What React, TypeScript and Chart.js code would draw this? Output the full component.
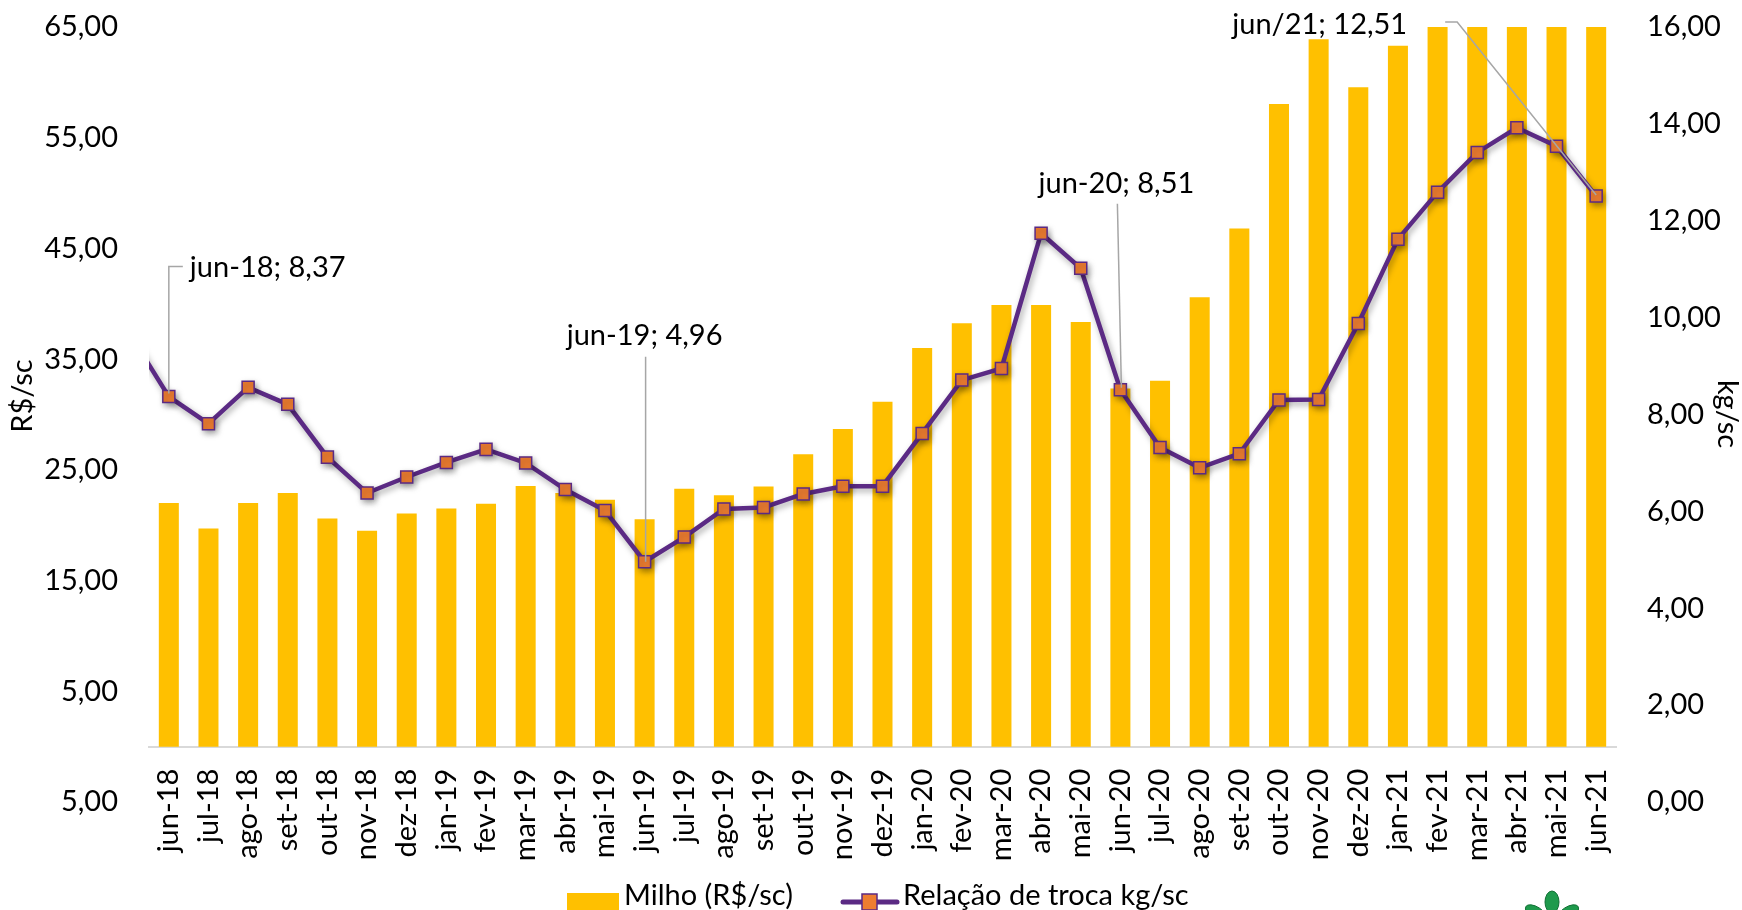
import React, { useEffect, useRef } from 'react';
import { Chart, registerables } from 'chart.js';

Chart.register(...registerables);

// ---------- data ----------
const categories = [
  'mai-18',
  'jun-18', 'jul-18', 'ago-18', 'set-18', 'out-18', 'nov-18', 'dez-18',
  'jan-19', 'fev-19', 'mar-19', 'abr-19', 'mai-19', 'jun-19', 'jul-19', 'ago-19', 'set-19', 'out-19', 'nov-19', 'dez-19',
  'jan-20', 'fev-20', 'mar-20', 'abr-20', 'mai-20', 'jun-20', 'jul-20', 'ago-20', 'set-20', 'out-20', 'nov-20', 'dez-20',
  'jan-21', 'fev-21', 'mar-21', 'abr-21', 'mai-21', 'jun-21',
];
const firstVisibleCategory = 'jun-18';

// Milho (R$/sc) — bars on the left axis (values above 65 are cut by the axis)
const milhoPrices = [
  null,
  22.0, 19.7, 22.0, 22.9, 20.6, 19.5, 21.05,
  21.5, 21.95, 23.55, 22.9, 22.3, 20.55, 23.3, 22.7, 23.5, 26.4, 28.7, 31.15,
  36.0, 38.25, 39.9, 39.9, 38.35, 32.35, 33.05, 40.6, 46.8, 58.05, 63.9, 59.55,
  63.3, 78.0, 84.0, 92.0, 95.0, 84.0,
];

// Relação de troca kg/sc — line on the right axis
const tradeRatio = [
  9.68,
  8.37, 7.81, 8.56, 8.21, 7.12, 6.38, 6.71,
  7.01, 7.28, 7.0, 6.45, 6.02, 4.96, 5.47, 6.05, 6.08, 6.36, 6.52, 6.52,
  7.61, 8.71, 8.95, 11.74, 11.02, 8.51, 7.32, 6.9, 7.19, 8.3, 8.31, 9.88,
  11.62, 12.59, 13.41, 13.92, 13.54, 12.51,
];

const annotatedCategories = ['jun-18', 'jun-19', 'jun-20', 'jun-21'];
const annotationTexts = ['jun-18; 8,37', 'jun-19; 4,96', 'jun-20; 8,51', 'jun/21; 12,51'];

const leftAxisTitle = 'R$/sc';
const rightAxisTitle = 'kg/sc';
const barLabel = 'Milho (R$/sc)';
const lineLabel = 'Relação de troca kg/sc';

const leftMin = -5;
const leftMax = 65;
const leftStep = 10;
const rightMin = 0;
const rightMax = 16;
const rightStep = 2;

// ---------- styles ----------
const FONT = 'Lato, "Open Sans", sans-serif';
const FONT_SIZE = 29;
const BAR_COLOR = '#FFC000';
const LINE_COLOR = '#5B2A84';
const MARKER_COLOR = '#ED7D31';
const LEADER_COLOR = '#A6A6A6';

const fmt = (v: number | string) => Math.abs(Number(v)).toFixed(2).replace('.', ',');

export default function App() {
  const ref = useRef<HTMLCanvasElement>(null);

  useEffect(() => {
    const canvas = ref.current;
    if (!canvas) return;

    const overlay = {
      id: 'overlay',
      beforeDatasetDraw(chart: any, args: any) {
        if (args.meta.type === 'line') {
          const c = chart.ctx;
          c.save();
          c.shadowColor = 'rgba(0,0,0,0.35)';
          c.shadowBlur = 6;
          c.shadowOffsetX = 2;
          c.shadowOffsetY = 3;
        }
      },
      afterDatasetDraw(chart: any, args: any) {
        if (args.meta.type === 'line') chart.ctx.restore();
      },
      afterDraw(chart: any) {
        const c: CanvasRenderingContext2D = chart.ctx;
        const xs = chart.scales.x;
        const ys = chart.scales.y1;
        const font = `${FONT_SIZE}px ${FONT}`;

        // annotations with leader lines
        annotatedCategories.forEach((cat, k) => {
          const i = categories.indexOf(cat);
          const px = xs.getPixelForValue(i);
          const py = ys.getPixelForValue(tradeRatio[i]);
          c.save();
          c.strokeStyle = LEADER_COLOR;
          c.lineWidth = 1.5;
          c.font = font;
          c.fillStyle = '#000';
          c.textBaseline = 'middle';
          c.beginPath();
          if (k === 0) {
            c.moveTo(px, py - 3);
            c.lineTo(px, py - 130);
            c.lineTo(px + 14, py - 130);
            c.stroke();
            c.textAlign = 'left';
            c.fillText(annotationTexts[k], px + 21, py - 129);
          } else if (k === 1) {
            c.moveTo(px + 1, py);
            c.lineTo(px + 1, py - 205);
            c.stroke();
            c.textAlign = 'center';
            c.fillText(annotationTexts[k], px, py - 226);
          } else if (k === 2) {
            c.moveTo(px + 1, py - 2);
            c.lineTo(px - 3, py - 186);
            c.stroke();
            c.textAlign = 'center';
            c.fillText(annotationTexts[k], px - 4, py - 206);
          } else {
            c.moveTo(px, py - 1);
            c.lineTo(px - 139, py - 174);
            c.lineTo(px - 151, py - 174);
            c.stroke();
            c.textAlign = 'right';
            c.fillText(annotationTexts[k], px - 189, py - 171);
          }
          c.restore();
        });

        // axis titles
        c.save();
        c.font = font;
        c.fillStyle = '#000';
        c.textAlign = 'center';
        c.textBaseline = 'middle';
        c.translate(23, 396);
        c.rotate(-Math.PI / 2);
        c.fillText(leftAxisTitle, 0, 0);
        c.restore();

        c.save();
        c.font = font;
        c.fillStyle = '#000';
        c.textAlign = 'center';
        c.textBaseline = 'middle';
        c.translate(1727, 414);
        c.rotate(Math.PI / 2);
        c.fillText(rightAxisTitle, 0, 0);
        c.restore();

        // legend
        c.save();
        c.font = font;
        c.fillStyle = BAR_COLOR;
        c.fillRect(567, 893, 52, 18);
        c.fillStyle = '#000';
        c.textAlign = 'left';
        c.textBaseline = 'middle';
        c.fillText(barLabel, 624, 896);
        c.strokeStyle = LINE_COLOR;
        c.lineWidth = 5;
        c.lineCap = 'round';
        c.beginPath();
        c.moveTo(843, 902);
        c.lineTo(897, 902);
        c.stroke();
        c.fillStyle = MARKER_COLOR;
        c.lineWidth = 1.5;
        c.fillRect(862, 894, 15, 16);
        c.strokeRect(862, 894, 15, 16);
        c.fillStyle = '#000';
        c.fillText(lineLabel, 903, 896);
        c.restore();

        // small logo (partially visible)
        c.save();
        c.fillStyle = '#1E9A4C';
        c.strokeStyle = '#0F6E33';
        c.lineWidth = 1;
        const leaf = (x: number, y: number, rx: number, ry: number, rot: number) => {
          c.beginPath();
          c.ellipse(x, y, rx, ry, rot, 0, Math.PI * 2);
          c.fill();
          c.stroke();
        };
        leaf(1552, 902, 7, 11, 0);
        leaf(1536, 913, 6, 12, -1.0);
        leaf(1568, 913, 6, 12, 1.0);
        c.restore();
      },
    };

    const fitVertical = (w: number) => (s: any) => {
      s.width = w;
      s.paddingTop = 0;
      s.paddingBottom = 0;
    };

    const chart = new Chart(canvas, {
      type: 'bar',
      data: {
        labels: categories,
        datasets: [
          {
            type: 'line',
            label: lineLabel,
            data: tradeRatio,
            yAxisID: 'y1',
            order: 0,
            borderColor: LINE_COLOR,
            borderWidth: 4.5,
            tension: 0,
            pointStyle: 'rect',
            pointRadius: 8.5,
            pointBackgroundColor: MARKER_COLOR,
            pointBorderColor: LINE_COLOR,
            pointBorderWidth: 1.5,
            fill: false,
          } as any,
          {
            type: 'bar',
            label: barLabel,
            data: milhoPrices,
            yAxisID: 'y',
            order: 1,
            backgroundColor: BAR_COLOR,
            borderWidth: 0,
            barPercentage: 0.505,
            categoryPercentage: 1,
          } as any,
        ],
      },
      options: {
        animation: false,
        responsive: false,
        devicePixelRatio: 1,
        layout: { padding: { top: 27, bottom: 108, left: 0, right: 0 } },
        plugins: {
          legend: { display: false },
          tooltip: { enabled: false },
        },
        scales: {
          x: {
            type: 'category',
            min: firstVisibleCategory,
            offset: true,
            position: { y: 0 } as any,
            grid: { display: false, drawTicks: false },
            border: { display: true, color: '#D9D9D9', width: 2 },
            ticks: {
              autoSkip: false,
              maxRotation: 90,
              minRotation: 90,
              padding: 22,
              color: '#000',
              font: { family: FONT, size: FONT_SIZE },
            },
            afterFit: (s: any) => { s.height = 0; s.paddingLeft = 0; s.paddingRight = 0; },
          } as any,
          y: {
            position: 'left',
            min: leftMin,
            max: leftMax,
            grid: { display: false, drawTicks: false },
            border: { display: false },
            ticks: {
              stepSize: leftStep,
              callback: (v: any) => fmt(v),
              padding: 31,
              color: '#000',
              font: { family: FONT, size: FONT_SIZE },
            },
            afterFit: fitVertical(149),
          } as any,
          y1: {
            position: 'right',
            min: rightMin,
            max: rightMax,
            grid: { display: false, drawTicks: false },
            border: { display: false },
            ticks: {
              stepSize: rightStep,
              callback: (v: any) => fmt(v),
              padding: 31,
              color: '#000',
              font: { family: FONT, size: FONT_SIZE },
            },
            afterFit: fitVertical(126),
          } as any,
        },
      },
      plugins: [overlay],
    });

    return () => chart.destroy();
  }, []);

  return (
    <div style={{ position: 'fixed', left: 0, top: 0, width: 1742, height: 910, background: '#fff' }}>
      <canvas ref={ref} width={1742} height={910} style={{ display: 'block' }} />
    </div>
  );
}
